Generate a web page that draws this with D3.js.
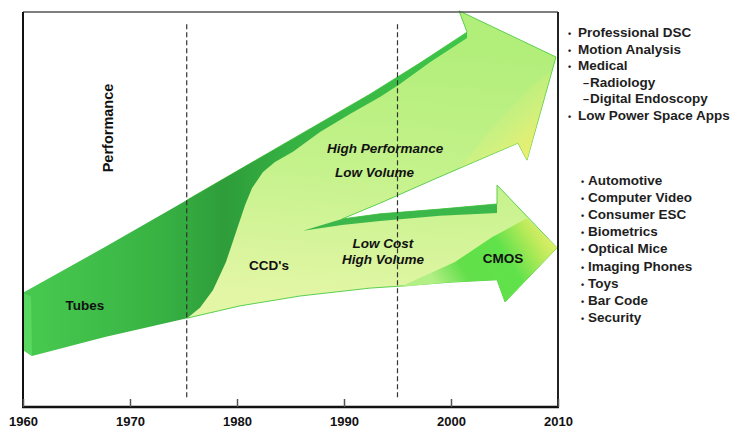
<!DOCTYPE html>
<html>
<head>
<meta charset="utf-8">
<script src="https://d3js.org/d3.v7.min.js"></script>
<style>
  body { margin: 0; background: #fff; }
  svg { display: block; font-family: "Liberation Sans", Arial, sans-serif; }
  .axis path { display: none; }
  .axis line { stroke: #555; stroke-width: 1.5px; }
  .axis text { font-size: 13px; font-weight: bold; fill: #111; font-family: "Liberation Sans", Arial, sans-serif; }
  .era { stroke: #333; stroke-width: 1.2px; stroke-dasharray: 5,3; }
  .lbl { font-size: 13.5px; font-weight: bold; fill: #111; }
  .apps text { font-size: 13.5px; font-weight: bold; fill: #1e1e1e; }
</style>
</head>
<body>
<script>

// x ticks (years) and the two era boundaries
var years = [1960, 1970, 1980, 1990, 2000, 2010];
var eraLines = [1975.3, 1995];
var eraSpan = [2.5, 97.2];

// shapes as [year, performance] (performance on a 0..100 scale)
var ccdBody = [
  [1975.33, 22.5], [1975.33, 52.4], [1983.74, 65.6], [1992.43, 79.2], [1997.10, 87.1],
  [2001.50, 94.9], [2000.75, 100.3], [2009.81, 88.6], [2007.10, 62.5], [2006.26, 66.8],
  [2002.99, 63.0], [1998.04, 57.2], [1993.36, 51.6], [1989.81, 47.6], [1993.36, 48.9],
  [1998.97, 50.1], [2004.30, 51.4], [2004.30, 56.2], [2009.91, 40.3], [2005.05, 26.6],
  [2004.30, 32.2], [1999.91, 31.6], [1995.23, 30.6], [1992.43, 30.1], [1985.89, 28.1],
  [1980.28, 25.6]
];

var tubesBand = [
  [1960, 28.9], [1967.66, 40.5], [1975.33, 52.4], [1983.74, 65.6], [1992.43, 79.2],
  [1997.10, 87.1], [2001.50, 94.9], [2001.50, 93.4], [1998.04, 87.3], [1995.23, 81.8],
  [1993.36, 78.5], [1990.56, 74.2], [1987.76, 69.6], [1985.23, 64.6], [1983.55, 62.0],
  [1982.43, 59.5], [1981.40, 55.4], [1980.75, 51.1], [1979.91, 44.3], [1978.97, 36.7],
  [1977.76, 29.6], [1976.54, 25.1], [1975.33, 22.5], [1967.66, 17.7], [1960.84, 12.9],
  [1960, 14.4]
];

var tubesEnd = [[1960, 28.9], [1960.75, 27.9], [1960.84, 12.9], [1960, 14.4]];

var cmosStripe = [
  [1986.17, 44.6], [1989.81, 47.6], [1993.36, 48.9], [1998.97, 50.1], [2004.30, 51.4],
  [2004.30, 49.1], [1998.97, 48.4], [1993.36, 47.1], [1989.81, 46.1]
];

var perfHeadTint = [
  [2009.44, 85.3], [2007.10, 62.5], [2006.26, 66.8], [2000.84, 60.5],
  [2003.64, 70.1], [2007.38, 80.8]
];

var cmosHead = [
  [1995.23, 30.4], [2000.37, 36.7], [2003.83, 43.0], [2007.10, 47.8], [2009.91, 40.3],
  [2005.05, 26.6], [2004.30, 32.2], [1999.91, 31.6]
];

// in-chart labels: [text, year, performance, anchor, italic]
var labels = [
  ["Tubes", 1965.79, 24.6, "middle", false],
  ["CCD's", 1983.0, 34.7, "middle", false],
  ["High Performance", 1988.41, 64.3, "start", true],
  ["Low Volume", 1989.16, 58.2, "start", true],
  ["Low Cost", 1993.64, 40.3, "middle", true],
  ["High Volume", 1993.64, 36.2, "middle", true],
  ["CMOS", 2004.86, 36.5, "middle", false]
];

// application lists: [name, indent level]
var proApps = [
  ["Professional DSC", 0], ["Motion Analysis", 0], ["Medical", 0],
  ["Radiology", 1], ["Digital Endoscopy", 1], ["Low Power Space Apps", 0]
];
var volumeApps = ["Automotive", "Computer Video", "Consumer ESC", "Biometrics",
  "Optical Mice", "Imaging Phones", "Toys", "Bar Code", "Security"];

var width = 739, height = 429;

var x = d3.scaleLinear().domain([1960, 2010]).range([23, 558]);
var y = d3.scaleLinear().domain([0, 100]).range([407, 12]);

var svg = d3.select("body").append("svg")
    .attr("width", width)
    .attr("height", height);

var defs = svg.append("defs");

function grad(id, x1, y1, x2, y2, stops) {
  var g = defs.append("linearGradient").attr("id", id)
      .attr("gradientUnits", "userSpaceOnUse")
      .attr("x1", x1).attr("y1", y1).attr("x2", x2).attr("y2", y2);
  stops.forEach(function(s) {
    g.append("stop").attr("offset", s[0]).attr("stop-color", s[1])
      .attr("stop-opacity", s[2] == null ? 1 : s[2]);
  });
}

grad("lightGrad", x(1995), y(93), x(1993), y(27),
  [[0, "#b2ee7a"], [0.5, "#c4f28b"], [1, "#e2f6a5"]]);
grad("darkGrad", x(1960), 0, x(2002), 0,
  [[0, "#48ca50"], [0.3, "#38b343"], [0.45, "#2e9d3a"], [0.6, "#36b243"], [1, "#3ec64a"]]);
grad("tintGrad", x(2003.64), y(75.2), x(2007.38), y(65.06),
  [[0, "#e6f07a", 0], [0.45, "#e8f077", 0.35], [1, "#eeee6b", 0.9]]);
grad("cmosGrad", x(1999), y(29.4), x(2008.8), y(45.8),
  [[0, "#b2ef84"], [0.25, "#62df4a"], [0.6, "#60e24a"], [0.85, "#b9ea5a"], [1, "#e2ee6a"]]);

var line = d3.line()
    .x(function(d) { return x(d[0]); })
    .y(function(d) { return y(d[1]); });

svg.append("path")
    .attr("d", line(ccdBody) + "Z")
    .attr("fill", "url(#lightGrad)")
    .attr("stroke", "#5ccf4f")
    .attr("stroke-width", 1);

svg.append("path")
    .attr("d", line(perfHeadTint) + "Z")
    .attr("fill", "url(#tintGrad)");

svg.append("path")
    .attr("d", line(cmosHead) + "Z")
    .attr("fill", "url(#cmosGrad)");

svg.append("path")
    .attr("d", line(cmosStripe) + "Z")
    .attr("fill", "#3cb84a");

svg.append("path")
    .attr("d", line(tubesBand) + "Z")
    .attr("fill", "url(#darkGrad)");

svg.append("path")
    .attr("d", line(tubesEnd) + "Z")
    .attr("fill", "#58d85e");

// era boundaries
svg.selectAll(".era")
    .data(eraLines)
    .enter().append("line")
    .attr("class", "era")
    .attr("x1", function(d) { return x(d); })
    .attr("x2", function(d) { return x(d); })
    .attr("y1", y(eraSpan[0]))
    .attr("y2", y(eraSpan[1]));

// labels inside the chart
svg.selectAll(".lbl")
    .data(labels)
    .enter().append("text")
    .attr("class", "lbl")
    .attr("x", function(d) { return x(d[1]); })
    .attr("y", function(d) { return y(d[2]); })
    .attr("text-anchor", function(d) { return d[3]; })
    .attr("font-style", function(d) { return d[4] ? "italic" : "normal"; })
    .text(function(d) { return d[0]; });

// frame
svg.append("line").attr("x1", 23).attr("x2", 558).attr("y1", 12).attr("y2", 12)
    .attr("stroke", "#555").attr("stroke-width", 1.5);
svg.append("line").attr("x1", 558).attr("x2", 558).attr("y1", 12).attr("y2", 407)
    .attr("stroke", "#222").attr("stroke-width", 2);
svg.append("line").attr("x1", 23).attr("x2", 23).attr("y1", 12).attr("y2", 408)
    .attr("stroke", "#111").attr("stroke-width", 2);
svg.append("line").attr("x1", 22).attr("x2", 559).attr("y1", 407).attr("y2", 407)
    .attr("stroke", "#111").attr("stroke-width", 2.5);

svg.append("g")
    .attr("class", "axis")
    .attr("transform", "translate(0," + y(0) + ")")
    .call(d3.axisBottom(x).tickValues(years).tickFormat(d3.format("d"))
      .tickSizeInner(-8).tickSizeOuter(0).tickPadding(10));

svg.append("text")
    .attr("class", "lbl")
    .attr("transform", "translate(113,128) rotate(-90)")
    .attr("text-anchor", "middle")
    .style("font-size", "14.5px")
    .text("Performance");

// application lists
var pro = svg.append("g").attr("class", "apps");
pro.selectAll("g").data(proApps).enter().append("g")
    .attr("transform", function(d, i) { return "translate(0," + (37 + i * 16.6) + ")"; })
    .each(function(d) {
      var g = d3.select(this);
      if (d[1] === 0) {
        g.append("text").attr("x", 568).style("font-size", "9px").text("\u2022");
        g.append("text").attr("x", 578).text(d[0]);
      } else {
        g.append("text").attr("x", 583).style("font-size", "11px").text("\u2013");
        g.append("text").attr("x", 590).text(d[0]);
      }
    });

var vol = svg.append("g").attr("class", "apps");
vol.selectAll("g").data(volumeApps).enter().append("g")
    .attr("transform", function(d, i) { return "translate(0," + (185 + i * 17.1) + ")"; })
    .each(function(d) {
      var g = d3.select(this);
      g.append("text").attr("x", 581).style("font-size", "9px").text("\u2022");
      g.append("text").attr("x", 588).text(d);
    });

</script>
</body>
</html>
